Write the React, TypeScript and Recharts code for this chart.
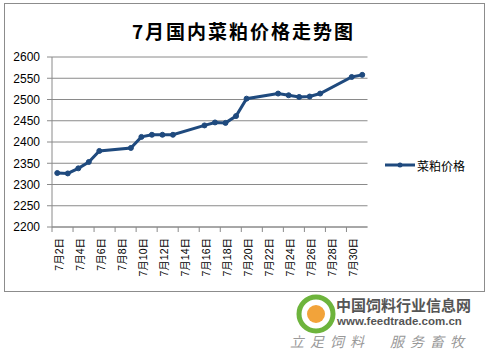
import React from "react";
import { LineChart, Line, XAxis, YAxis, CartesianGrid } from "recharts";

const categories = [
  "7月2日", "7月3日", "7月4日", "7月5日", "7月6日", "7月7日", "7月8日", "7月9日",
  "7月10日", "7月11日", "7月12日", "7月13日", "7月14日", "7月15日", "7月16日",
  "7月17日", "7月18日", "7月19日", "7月20日", "7月21日", "7月22日", "7月23日",
  "7月24日", "7月25日", "7月26日", "7月27日", "7月28日", "7月29日", "7月30日", "7月31日",
];

const prices: (number | null)[] = [
  2327, 2326, 2338, 2353, 2379, null, null, 2386,
  2412, 2417, 2417, 2417, null, null, 2439,
  2446, 2445, 2461, 2502, null, null, 2514,
  2510, 2506, 2507, 2514, null, null, 2553, 2558,
];

const yTicks = [2200, 2250, 2300, 2350, 2400, 2450, 2500, 2550, 2600];

const seriesName = "菜粕价格";
const title = "7月国内菜粕价格走势图";

const data = categories.map((c, i) => ({ date: c, price: prices[i] }));

const LINE = "#1F4A7E";
const GRID = "#8a8a8a";
const FONT = "'Liberation Sans', 'Noto Sans CJK SC', sans-serif";

const XTick = (props: any) => {
  const { x, y, payload, index } = props;
  const off = payload.offset || 0;
  const isLast = index === categories.length - 2;
  return (
    <g>
      <line x1={x - off} x2={x - off} y1={y} y2={y + 5} stroke={GRID} />
      {isLast && (
        <line x1={x + 3 * off} x2={x + 3 * off} y1={y} y2={y + 5} stroke={GRID} />
      )}
      <text
        x={0}
        y={0}
        transform={`translate(${x + 1.5},${y + 11}) rotate(-90)`}
        textAnchor="end"
        dominantBaseline="central"
        fontSize={10.5}
        fontFamily={FONT}
        fill="#000"
      >
        {payload.value}
      </text>
    </g>
  );
};

export default function App() {
  return (
    <div style={{ position: "absolute", left: 0, top: 0, width: 494, height: 363, background: "#fff" }}>
      <div
        style={{
          position: "absolute", left: 4, top: 3, width: 479, height: 287,
          border: "1px solid #8c8c8c", boxSizing: "content-box",
        }}
      />
      <div
        style={{
          position: "absolute", left: 0, top: 18, width: 487, textAlign: "center",
          fontFamily: "'Noto Sans CJK SC', sans-serif", fontWeight: "bold",
          fontSize: 19, letterSpacing: 2, lineHeight: "26px", color: "#000",
        }}
      >
        {title}
      </div>
      <div style={{ position: "absolute", left: 0, top: 0 }}>
        <LineChart
          width={494}
          height={363}
          data={data}
          margin={{ top: 57, right: 126.5, left: 0, bottom: 76 }}
        >
          <CartesianGrid vertical={false} stroke={GRID} strokeDasharray="" />
          <XAxis
            dataKey="date"
            scale="band"
            interval={1}
            tickLine={false}
            tickSize={0}
            tickMargin={0}
            axisLine={{ stroke: GRID }}
            tick={<XTick />}
            height={60}
          />
          <YAxis
            domain={[2200, 2600]}
            ticks={yTicks}
            width={52}
            tickSize={5}
            tickMargin={7}
            axisLine={{ stroke: GRID }}
            tickLine={{ stroke: GRID }}
            tick={{ fontSize: 12, fill: "#000", fontFamily: FONT }}
            interval={0}
          />
          <Line
            type="linear"
            dataKey="price"
            name={seriesName}
            stroke={LINE}
            strokeWidth={3}
            dot={{ r: 2.5, fill: LINE, stroke: LINE, strokeWidth: 1 }}
            connectNulls
            isAnimationActive={false}
          />
        </LineChart>
      </div>
      <div style={{ position: "absolute", left: 384, top: 155, display: "flex", alignItems: "center" }}>
        <svg width={32} height={20}>
          <line x1={1} x2={31} y1={10} y2={10} stroke={LINE} strokeWidth={3} />
          <circle cx={16} cy={10} r={2.5} fill={LINE} />
        </svg>
        <span style={{ fontFamily: "'Noto Sans CJK SC', sans-serif", fontSize: 12, color: "#000", marginLeft: 1 }}>
          {seriesName}
        </span>
      </div>
      <div style={{ position: "absolute", left: 288, top: 293, width: 200, height: 66, background: "#fff" }}>
        <svg width={44} height={44} style={{ position: "absolute", left: 6, top: 0 }}>
          <circle cx={22} cy={21} r={17} fill="none" stroke="#6db43c" strokeWidth={5} />
          <circle cx={22} cy={21} r={9} fill="#f2a33a" />
        </svg>
        <div
          style={{
            position: "absolute", left: 48, top: 4, fontFamily: "'Noto Sans CJK SC', sans-serif",
            fontWeight: "bold", fontSize: 15, lineHeight: "16px", color: "#555", whiteSpace: "nowrap",
          }}
        >
          中国饲料行业信息网
        </div>
        <div
          style={{
            position: "absolute", left: 49, top: 22, fontFamily: FONT, fontWeight: "bold",
            fontSize: 11.5, lineHeight: "12px", color: "#555", whiteSpace: "nowrap",
          }}
        >
          www.feedtrade.com.cn
        </div>
        <div
          style={{
            position: "absolute", left: 2, top: 40, fontFamily: "'Noto Sans CJK SC', sans-serif",
            fontStyle: "italic", fontSize: 14, letterSpacing: 6, lineHeight: "16px", color: "#999",
            whiteSpace: "nowrap",
          }}
        >
          立足饲料　服务畜牧
        </div>
      </div>
    </div>
  );
}
